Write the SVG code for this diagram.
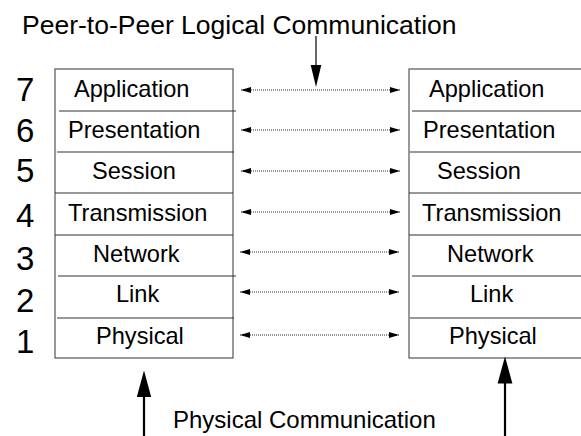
<svg xmlns="http://www.w3.org/2000/svg" width="581" height="436" viewBox="0 0 581 436">
  <style>
    .box { fill: none; stroke: #555; stroke-width: 1.2; }
    .div { stroke: #333; stroke-width: 1.2; }
    .lbl { font-family: "Liberation Sans", Arial, sans-serif; font-size: 23.6px; fill: #000; }
    .num { font-family: "Liberation Sans", Arial, sans-serif; font-size: 33px; fill: #000; }
    .title { font-family: "Liberation Sans", Arial, sans-serif; fill: #000; }
    .dot { stroke: #333; stroke-width: 1; stroke-dasharray: 1 1; fill: none; }
    .head { fill: #000; }
    .solid { stroke: #000; fill: none; }
  </style>
  <defs>
    <marker id="sm" viewBox="0 0 10 6" refX="10" refY="3" markerWidth="10" markerHeight="6" markerUnits="userSpaceOnUse" orient="auto-start-reverse">
      <path d="M0,0 L10,3 L0,6 Z" fill="#000"/>
    </marker>
  </defs>
  <rect width="581" height="436" fill="#fff"/>

  <text class="title" x="22" y="34" font-size="26.5">Peer-to-Peer Logical Communication</text>
  <text class="title" x="173" y="428" font-size="24">Physical Communication</text>

  <g id="layer-numbers">
    <text class="num" x="16" y="101">7</text>
    <text class="num" x="16" y="142">6</text>
    <text class="num" x="16" y="182">5</text>
    <text class="num" x="16" y="227">4</text>
    <text class="num" x="16" y="270">3</text>
    <text class="num" x="16" y="312">2</text>
    <text class="num" x="16" y="353">1</text>
  </g>

  <g id="left-stack">
    <rect class="box" x="55" y="69" width="178" height="289"/>
    <line class="div" x1="59" y1="111" x2="236" y2="111"/>
    <line class="div" x1="57" y1="152" x2="234" y2="152"/>
    <line class="div" x1="55" y1="193" x2="233" y2="193"/>
    <line class="div" x1="55" y1="235" x2="233" y2="235"/>
    <line class="div" x1="58" y1="276" x2="236" y2="276"/>
    <line class="div" x1="57" y1="318" x2="234" y2="318"/>
    <text class="lbl" x="74" y="97">Application</text>
    <text class="lbl" x="68" y="138">Presentation</text>
    <text class="lbl" x="92" y="179">Session</text>
    <text class="lbl" x="68" y="221">Transmission</text>
    <text class="lbl" x="93" y="262">Network</text>
    <text class="lbl" x="116" y="302">Link</text>
    <text class="lbl" x="96" y="344">Physical</text>
  </g>

  <g id="right-stack">
    <rect class="box" x="409" y="69" width="180" height="289"/>
    <line class="div" x1="412" y1="111" x2="581" y2="111"/>
    <line class="div" x1="410" y1="152" x2="581" y2="152"/>
    <line class="div" x1="409" y1="193" x2="581" y2="193"/>
    <line class="div" x1="409" y1="235" x2="581" y2="235"/>
    <line class="div" x1="412" y1="276" x2="581" y2="276"/>
    <line class="div" x1="410" y1="318" x2="581" y2="318"/>
    <text class="lbl" x="429" y="97">Application</text>
    <text class="lbl" x="423" y="138">Presentation</text>
    <text class="lbl" x="437" y="179">Session</text>
    <text class="lbl" x="422" y="221">Transmission</text>
    <text class="lbl" x="447" y="262">Network</text>
    <text class="lbl" x="470" y="302">Link</text>
    <text class="lbl" x="449" y="344">Physical</text>
  </g>

  <g id="connectors">
    <line class="dot" x1="241" y1="90" x2="400" y2="90" marker-start="url(#sm)" marker-end="url(#sm)"/>
    <line class="dot" x1="241" y1="130" x2="400" y2="130" marker-start="url(#sm)" marker-end="url(#sm)"/>
    <line class="dot" x1="241" y1="171" x2="400" y2="171" marker-start="url(#sm)" marker-end="url(#sm)"/>
    <line class="dot" x1="241" y1="212" x2="400" y2="212" marker-start="url(#sm)" marker-end="url(#sm)"/>
    <line class="dot" x1="240" y1="252" x2="399" y2="252" marker-start="url(#sm)" marker-end="url(#sm)"/>
    <line class="dot" x1="240" y1="292" x2="399" y2="292" marker-start="url(#sm)" marker-end="url(#sm)"/>
    <line class="dot" x1="240" y1="335" x2="399" y2="335" marker-start="url(#sm)" marker-end="url(#sm)"/>

    <line class="solid" x1="316" y1="36" x2="316" y2="66" stroke-width="1.2"/>
    <polygon class="head" points="310.7,65 321.3,65 316,87"/>

    <line class="solid" x1="144" y1="396" x2="144" y2="436" stroke-width="2.2"/>
    <polygon class="head" points="136.8,397 151.2,397 144,370.5"/>

    <line class="solid" x1="505" y1="382" x2="505" y2="436" stroke-width="2.2"/>
    <polygon class="head" points="497.6,383.5 512.4,383.5 505,356.5"/>
  </g>
</svg>
